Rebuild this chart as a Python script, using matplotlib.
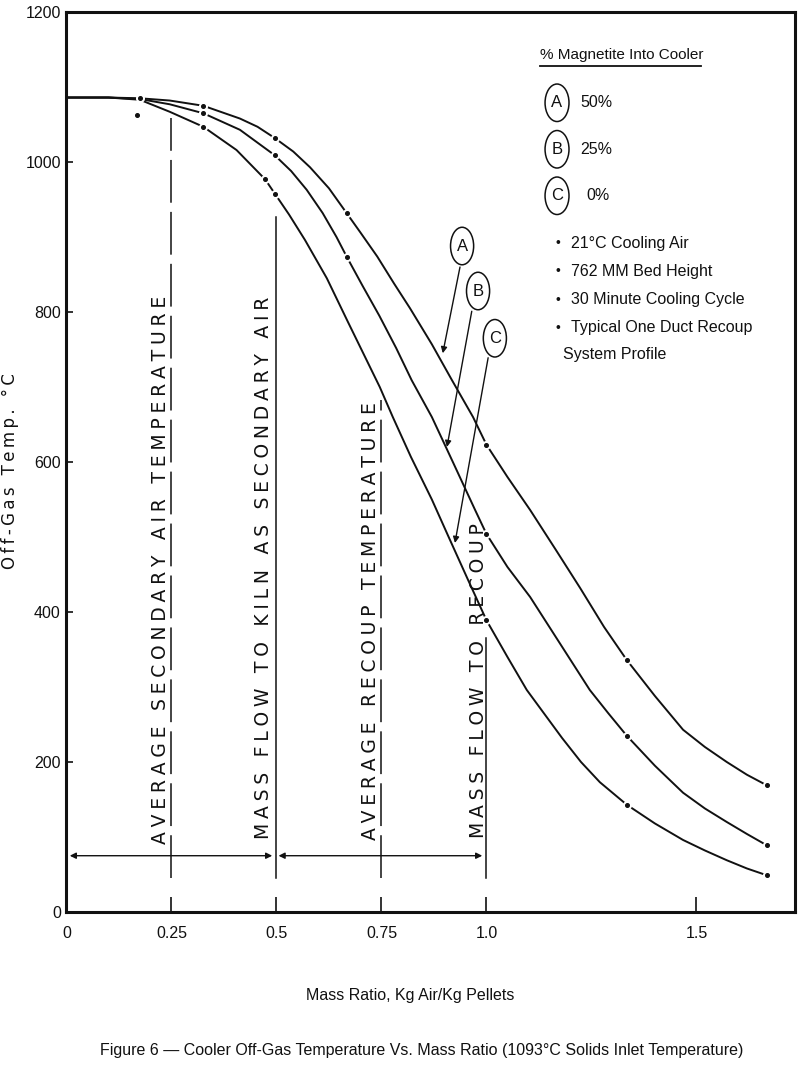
import matplotlib.pyplot as plt
from matplotlib.patches import Ellipse

NARROW = ['Liberation Sans', 'DejaVu Sans']
WIDE = ['DejaVu Sans']
plt.rcParams['font.family'] = NARROW

# curves (mass ratio, off-gas temp degC)
A_x = [0, 0.10, 0.175, 0.246, 0.326, 0.413, 0.455, 0.496, 0.54, 0.58, 0.625, 0.667,
       0.70, 0.74, 0.78, 0.818, 0.87, 0.918, 0.968, 1.0, 1.05, 1.104, 1.165, 1.223,
       1.28, 1.334, 1.401, 1.468, 1.52, 1.572, 1.62, 1.667]
A_y = [1086, 1086, 1085, 1082, 1075, 1058, 1047, 1032, 1014, 993, 965, 932,
       906, 874, 838, 805, 757, 709, 660, 623, 580, 536, 483, 432,
       380, 336, 288, 243, 220, 200, 183, 169]
B_x = [0, 0.10, 0.175, 0.246, 0.326, 0.413, 0.496, 0.535, 0.572, 0.61, 0.643, 0.668,
       0.705, 0.745, 0.785, 0.822, 0.87, 0.92, 0.973, 1.0, 1.05, 1.104, 1.175, 1.246,
       1.29, 1.334, 1.401, 1.468, 1.52, 1.572, 1.62, 1.667]
B_y = [1086, 1086, 1084, 1077, 1065, 1043, 1009, 988, 963, 932, 900, 873,
       835, 795, 752, 709, 660, 600, 536, 504, 460, 420, 358, 296,
       265, 235, 195, 159, 138, 120, 104, 89]
C_x = [0, 0.10, 0.175, 0.246, 0.326, 0.405, 0.473, 0.496, 0.53, 0.568, 0.62, 0.67,
       0.746, 0.777, 0.82, 0.87, 0.91, 0.956, 1.0, 1.05, 1.096, 1.18, 1.225, 1.27,
       1.334, 1.401, 1.468, 1.52, 1.572, 1.62, 1.667]
C_y = [1086, 1086, 1083, 1067, 1047, 1016, 977, 958, 930, 896, 845, 787,
       700, 660, 607, 550, 500, 443, 389, 340, 296, 232, 200, 173,
       143, 118, 96, 82, 69, 58, 49]

# plotted data points (dots on the curves)
A_pts = [0.175, 0.326, 0.496, 0.667, 1.0, 1.334, 1.667]
B_pts = [0.326, 0.496, 0.668, 1.0, 1.334, 1.667]
C_pts = [0.326, 0.473, 0.496, 1.0, 1.334, 1.667]
stray_x = [0.167]
stray_y = [1063]

# vertical reference lines
guide_x = [0.25, 0.5, 0.75, 1.0]
guide_top = [1059, 927, 683, 365]
guide_dashed = [True, False, True, False]
guide_labels = ['AVERAGE SECONDARY AIR TEMPERATURE',
                'MASS FLOW TO KILN AS SECONDARY AIR',
                'AVERAGE RECOUP TEMPERATURE',
                'MASS FLOW TO RECOUP']
label_x = [0.223, 0.47, 0.723, 0.98]
label_y = [456, 459, 388, 309]

legend_letters = ['A', 'B', 'C']
legend_pct = ['50%', '25%', '0%']
pct_x = [1.223, 1.223, 1.239]
notes = ['21°C Cooling Air', '762 MM Bed Height', '30 Minute Cooling Cycle',
         'Typical One Duct Recoup']

# callouts: circle centre, arrow tail, arrow head
call_xy = [(0.942, 888), (0.980, 828), (1.020, 765)]
call_tail = [(0.937, 860), (0.965, 801), (1.004, 739)]
call_head = [(0.896, 745), (0.906, 620), (0.925, 492)]


def spaced(s, gap='\u2005'):
    return gap.join(s)


fig = plt.figure(figsize=(8, 10.65), dpi=100)
ax = fig.add_axes([0.083, 0.1437, 0.911, 0.845])
ax.set_xlim(0, 1.735)
ax.set_ylim(0, 1200)

ink = '#111111'
for xs, ys, pts in [(A_x, A_y, A_pts), (B_x, B_y, B_pts), (C_x, C_y, C_pts)]:
    ax.plot(xs, ys, color=ink, lw=1.4, solid_capstyle='butt', zorder=2)
    py = [ys[xs.index(p)] for p in pts]
    ax.plot(pts, py, 'o', color='white', ms=5.5, zorder=3)
    ax.plot(pts, py, 'o', color=ink, ms=2.6, zorder=4)
ax.plot(stray_x, stray_y, 'o', color=ink, ms=2.6)

for gx, top, dashed, lab, lx, ly in zip(guide_x, guide_top, guide_dashed,
                                        guide_labels, label_x, label_y):
    if dashed:
        ax.plot([gx, gx], [45, top], color=ink, lw=1.1, dashes=(28, 6))
    else:
        ax.plot([gx, gx], [45, top], color=ink, lw=1.1)
    ax.text(lx, ly, spaced(lab), rotation=90, ha='center', va='center',
            fontsize=13.5, family=WIDE, color=ink)

# double arrows at the bottom
for x0, x1 in [(0.008, 0.49), (0.505, 0.99)]:
    ax.annotate('', xy=(x0, 75), xytext=(x1, 75),
                arrowprops=dict(arrowstyle='<|-|>', lw=1.0, color=ink,
                                shrinkA=0, shrinkB=0, mutation_scale=9))

# A / B / C callouts
for let, (cx, cy), tail, head in zip(legend_letters, call_xy, call_tail, call_head):
    ax.add_patch(Ellipse((cx, cy), 0.055, 50, fill=False, lw=1.1, ec=ink))
    ax.text(cx, cy, let, ha='center', va='center', fontsize=12, color=ink)
    ax.annotate('', xy=head, xytext=tail,
                arrowprops=dict(arrowstyle='-|>', lw=1.0, color=ink,
                                shrinkA=0, shrinkB=0, mutation_scale=9))

# legend block
ax.text(1.127, 1143, '% Magnetite Into Cooler', ha='left', va='center',
        fontsize=11, color=ink)
ax.plot([1.127, 1.51], [1128, 1128], color=ink, lw=1.3)
for i, (let, pct, px) in enumerate(zip(legend_letters, legend_pct, pct_x)):
    cy = 1079 - i * 62
    ax.add_patch(Ellipse((1.168, cy), 0.057, 50, fill=False, lw=1.1, ec=ink))
    ax.text(1.168, cy, let, ha='center', va='center', fontsize=12, color=ink)
    ax.text(px, cy, pct, ha='left', va='center', fontsize=11.5, color=ink)
for i, note in enumerate(notes):
    ny = 892 - i * 37.7
    ax.text(1.169, ny, '•', ha='center', va='center', fontsize=10, color=ink)
    ax.text(1.201, ny, note, ha='left', va='center', fontsize=11.5, color=ink)
ax.text(1.182, 743, 'System Profile', ha='left', va='center', fontsize=11.5, color=ink)

# axes styling
for sp in ax.spines.values():
    sp.set_linewidth(2.2)
    sp.set_color(ink)
ax.set_xticks([0, 0.25, 0.5, 0.75, 1.0, 1.5])
ax.set_xticklabels(['0', '0.25', '0.5', '0.75', '1.0', '1.5'])
ax.set_yticks([0, 200, 400, 600, 800, 1000, 1200])
ax.tick_params(axis='x', direction='in', length=11, width=1.2, pad=10,
               labelsize=11.5, colors=ink)
ax.tick_params(axis='y', direction='in', length=5, width=1.2, pad=4,
               labelsize=11.5, colors=ink)
ax.set_ylabel(spaced('Off-Gas Temp. °C', '\u2009'), family=WIDE, fontsize=12,
              color=ink)
ax.yaxis.set_label_coords(-0.065, 0.49)

fig.text(0.5125, 0.0648, 'Mass Ratio, Kg Air/Kg Pellets', ha='center', va='center',
         fontsize=11.5, color=ink)
fig.text(0.5275, 0.014,
         'Figure 6 \u2014 Cooler Off-Gas Temperature Vs. Mass Ratio '
         '(1093°C Solids Inlet Temperature)',
         ha='center', va='center', fontsize=11.5, color=ink)

fig.savefig('out.png', dpi=100)
